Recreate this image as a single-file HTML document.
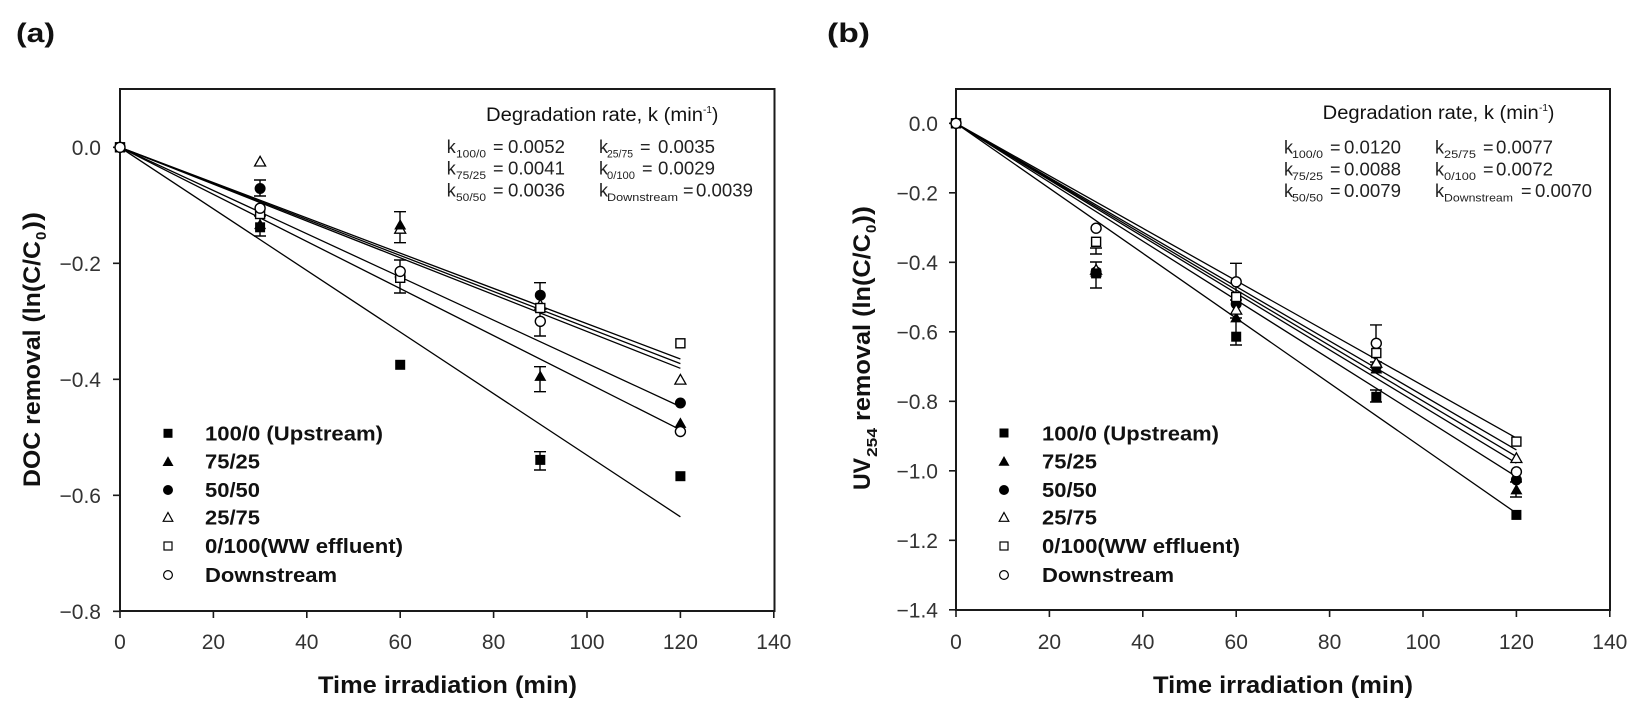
<!DOCTYPE html>
<html><head><meta charset="utf-8"><style>
html,body{margin:0;padding:0;background:#fff;}
svg{display:block;}
text{font-family:"Liberation Sans",Arial,sans-serif;fill:#111;}
.tk{font-size:21px;fill:#333;}
.lg{font-size:20px;font-weight:bold;}
.al{font-size:24px;font-weight:bold;}
.an{font-size:18px;fill:#222;}
.sb{font-size:11px;fill:#222;}
</style></head><body>
<svg width="1641" height="710" viewBox="0 0 1641 710" xmlns="http://www.w3.org/2000/svg">
<defs>
<rect id="fs" x="-5" y="-5" width="10" height="10" fill="#000"/>
<rect id="os" x="-4.5" y="-4.5" width="9" height="9" fill="#fff" stroke="#000" stroke-width="1.4"/>
<circle id="fc" r="5.5" fill="#000"/>
<circle id="oc" r="5" fill="#fff" stroke="#000" stroke-width="1.4"/>
<polygon id="ft" points="0,-6 6,4.5 -6,4.5" fill="#000"/>
<polygon id="ot" points="0,-5.5 5.5,4.2 -5.5,4.2" fill="#fff" stroke="#000" stroke-width="1.3"/>
</defs>
<rect width="1641" height="710" fill="#fff"/>

<!-- ================= PANEL A ================= -->
<text x="16" y="42" font-size="27" font-weight="bold" textLength="39" lengthAdjust="spacingAndGlyphs">(a)</text>
<rect x="120" y="89" width="654.5" height="522" fill="none" stroke="#1a1a1a" stroke-width="2"/>
<g stroke="#1a1a1a" stroke-width="1.6">
<path d="M113 147.3H120M113 263.3H120M113 379.3H120M113 495.3H120M113 611.3H120"/>
<path d="M120 611V618M213.4 611V618M306.8 611V618M400.2 611V618M493.6 611V618M587 611V618M680.4 611V618M773.8 611V618"/>
</g>
<g text-anchor="end">
<text x="101" y="154.8" class="tk">0.0</text>
<text x="101" y="270.8" class="tk">−0.2</text>
<text x="101" y="386.8" class="tk">−0.4</text>
<text x="101" y="502.8" class="tk">−0.6</text>
<text x="101" y="618.8" class="tk">−0.8</text>
</g>
<g text-anchor="middle">
<text x="120" y="649" class="tk">0</text>
<text x="213.4" y="649" class="tk">20</text>
<text x="306.8" y="649" class="tk">40</text>
<text x="400.2" y="649" class="tk">60</text>
<text x="493.6" y="649" class="tk">80</text>
<text x="587" y="649" class="tk">100</text>
<text x="680.4" y="649" class="tk">120</text>
<text x="773.8" y="649" class="tk">140</text>
</g>
<text x="318" y="693" class="al" textLength="259" lengthAdjust="spacingAndGlyphs">Time irradiation (min)</text>
<g transform="translate(40,487) rotate(-90)">
<text x="0" y="0" class="al" textLength="246" lengthAdjust="spacingAndGlyphs">DOC removal (ln(C/C</text>
<text x="247" y="6" font-size="15" font-weight="bold">0</text>
<text x="257" y="0" class="al" textLength="18" lengthAdjust="spacingAndGlyphs">))</text>
</g>
<text x="486" y="121" font-size="19" fill="#222" textLength="217" lengthAdjust="spacingAndGlyphs">Degradation rate, k (min</text>
<text x="703" y="113" font-size="10" fill="#222">-1</text>
<text x="712" y="121" font-size="19" fill="#222">)</text>
<g>
<text x="446.7" y="153" class="an">k</text><text x="456" y="157.5" class="sb" textLength="30" lengthAdjust="spacingAndGlyphs">100/0</text><text x="493" y="153" class="an">=</text><text x="508" y="153" class="an" textLength="57" lengthAdjust="spacingAndGlyphs">0.0052</text>
<text x="446.7" y="174.7" class="an">k</text><text x="456" y="179.2" class="sb" textLength="30" lengthAdjust="spacingAndGlyphs">75/25</text><text x="493" y="174.7" class="an">=</text><text x="508" y="174.7" class="an" textLength="57" lengthAdjust="spacingAndGlyphs">0.0041</text>
<text x="446.7" y="196.4" class="an">k</text><text x="456" y="200.9" class="sb" textLength="30" lengthAdjust="spacingAndGlyphs">50/50</text><text x="493" y="196.4" class="an">=</text><text x="508" y="196.4" class="an" textLength="57" lengthAdjust="spacingAndGlyphs">0.0036</text>
<text x="599" y="153" class="an">k</text><text x="607" y="157.5" class="sb" textLength="26" lengthAdjust="spacingAndGlyphs">25/75</text><text x="640" y="153" class="an">=</text><text x="658" y="153" class="an" textLength="57" lengthAdjust="spacingAndGlyphs">0.0035</text>
<text x="599" y="174.7" class="an">k</text><text x="607" y="179.2" class="sb" textLength="28" lengthAdjust="spacingAndGlyphs">0/100</text><text x="642" y="174.7" class="an">=</text><text x="658" y="174.7" class="an" textLength="57" lengthAdjust="spacingAndGlyphs">0.0029</text>
<text x="599" y="196.4" class="an">k</text><text x="607" y="200.9" class="sb" textLength="71" lengthAdjust="spacingAndGlyphs">Downstream</text><text x="683" y="196.4" class="an">=</text><text x="696" y="196.4" class="an" textLength="57" lengthAdjust="spacingAndGlyphs">0.0039</text>
</g>
<g stroke="#000" stroke-width="1.3" fill="none">
<path d="M120 147.3L680.4 359"/>
<path d="M120 147.3L680.4 363.6"/>
<path d="M120 147.3L680.4 368.3"/>
<path d="M120 147.3L680.4 406.6"/>
<path d="M120 147.3L680.4 429.8"/>
<path d="M120 147.3L680.4 516.8"/>
</g>
<g stroke="#000" stroke-width="1.4" fill="none">
<path d="M254 180H266M260 180V196M254 196H266"/>
<path d="M254 216H266M260 216V236M254 236H266"/>
<path d="M394 211.7H406M400 211.7V242.7M394 242.7H406"/>
<path d="M394 260H406M400 260V293M394 293H406"/>
<path d="M534 282.7H546M540 282.7V336M534 336H546"/>
<path d="M534 366.7H546M540 366.7V391.7M534 391.7H546"/>
<path d="M534 451.7H546M540 451.7V470M534 470H546"/>
</g>
<use href="#fs" x="120" y="147.3"/><use href="#os" x="120" y="147.3"/><use href="#oc" x="120" y="147.3"/>
<use href="#ot" x="260.1" y="161.8"/>
<use href="#fc" x="260.1" y="188.5"/>
<use href="#os" x="260.1" y="214"/>
<use href="#oc" x="260.1" y="208.2"/>
<use href="#fs" x="260.1" y="227.3"/>
<use href="#ft" x="260.1" y="224.6"/>
<use href="#fc" x="400.2" y="277"/>
<use href="#os" x="400.2" y="277.8"/>
<use href="#oc" x="400.2" y="271.4"/>
<use href="#ot" x="400.2" y="229"/>
<use href="#ft" x="400.2" y="225"/>
<use href="#fs" x="400.2" y="364.8"/>
<use href="#ot" x="540.3" y="305"/>
<use href="#fc" x="540.3" y="295.2"/>
<use href="#os" x="540.3" y="308"/>
<use href="#oc" x="540.3" y="321.3"/>
<use href="#ft" x="540.3" y="376.4"/>
<use href="#fs" x="540.3" y="459.9"/>
<use href="#os" x="680.4" y="343.3"/>
<use href="#ot" x="680.4" y="379.9"/>
<use href="#fc" x="680.4" y="403"/>
<use href="#ft" x="680.4" y="423.4"/>
<use href="#oc" x="680.4" y="431.5"/>
<use href="#fs" x="680.4" y="476.2"/>
<g>
<rect x="163.5" y="428.8" width="9" height="9" fill="#000"/>
<polygon points="168,456.2 173.5,466 162.5,466" fill="#000"/>
<circle cx="168" cy="490" r="5" fill="#000"/>
<polygon points="168,512.5 172.8,521.3 163.2,521.3" fill="#fff" stroke="#000" stroke-width="1.2"/>
<rect x="164" y="542" width="8" height="8" fill="#fff" stroke="#000" stroke-width="1.2"/>
<circle cx="168" cy="575" r="4.4" fill="#fff" stroke="#000" stroke-width="1.2"/>
<text x="205" y="440.5" class="lg" textLength="178" lengthAdjust="spacingAndGlyphs">100/0 (Upstream)</text>
<text x="205" y="468.7" class="lg" textLength="55" lengthAdjust="spacingAndGlyphs">75/25</text>
<text x="205" y="497" class="lg" textLength="55" lengthAdjust="spacingAndGlyphs">50/50</text>
<text x="205" y="524.7" class="lg" textLength="55" lengthAdjust="spacingAndGlyphs">25/75</text>
<text x="205" y="553" class="lg" textLength="198" lengthAdjust="spacingAndGlyphs">0/100(WW effluent)</text>
<text x="205" y="582" class="lg" textLength="132" lengthAdjust="spacingAndGlyphs">Downstream</text>
</g>

<!-- ================= PANEL B ================= -->
<text x="827" y="42" font-size="27" font-weight="bold" textLength="43" lengthAdjust="spacingAndGlyphs">(b)</text>
<rect x="956" y="89" width="654" height="521" fill="none" stroke="#1a1a1a" stroke-width="2"/>
<g stroke="#1a1a1a" stroke-width="1.6">
<path d="M949 123.3H956M949 192.8H956M949 262.3H956M949 331.8H956M949 401.3H956M949 470.8H956M949 540.3H956M949 609.8H956"/>
<path d="M956 610V617M1049.4 610V617M1142.8 610V617M1236.2 610V617M1329.6 610V617M1423 610V617M1516.4 610V617M1609.8 610V617"/>
</g>
<g text-anchor="end">
<text x="938" y="130.8" class="tk">0.0</text>
<text x="938" y="200.3" class="tk">−0.2</text>
<text x="938" y="269.8" class="tk">−0.4</text>
<text x="938" y="339.3" class="tk">−0.6</text>
<text x="938" y="408.8" class="tk">−0.8</text>
<text x="938" y="478.3" class="tk">−1.0</text>
<text x="938" y="547.8" class="tk">−1.2</text>
<text x="938" y="617.3" class="tk">−1.4</text>
</g>
<g text-anchor="middle">
<text x="956" y="649" class="tk">0</text>
<text x="1049.4" y="649" class="tk">20</text>
<text x="1142.8" y="649" class="tk">40</text>
<text x="1236.2" y="649" class="tk">60</text>
<text x="1329.6" y="649" class="tk">80</text>
<text x="1423" y="649" class="tk">100</text>
<text x="1516.4" y="649" class="tk">120</text>
<text x="1609.8" y="649" class="tk">140</text>
</g>
<text x="1153" y="693" class="al" textLength="260" lengthAdjust="spacingAndGlyphs">Time irradiation (min)</text>
<g transform="translate(870,490) rotate(-90)">
<text x="0" y="0" class="al" textLength="32" lengthAdjust="spacingAndGlyphs">UV</text>
<text x="33" y="7" font-size="15" font-weight="bold" textLength="29" lengthAdjust="spacingAndGlyphs">254</text>
<text x="69" y="0" class="al" textLength="187" lengthAdjust="spacingAndGlyphs">removal (ln(C/C</text>
<text x="257" y="6" font-size="15" font-weight="bold">0</text>
<text x="266" y="0" class="al" textLength="18" lengthAdjust="spacingAndGlyphs">))</text>
</g>
<text x="1322.7" y="119" font-size="19" fill="#222" textLength="216" lengthAdjust="spacingAndGlyphs">Degradation rate, k (min</text>
<text x="1539" y="111" font-size="10" fill="#222">-1</text>
<text x="1548" y="119" font-size="19" fill="#222">)</text>
<g>
<text x="1284" y="153.7" class="an">k</text><text x="1292" y="158.2" class="sb" textLength="31" lengthAdjust="spacingAndGlyphs">100/0</text><text x="1330" y="153.7" class="an">=</text><text x="1344" y="153.7" class="an" textLength="57" lengthAdjust="spacingAndGlyphs">0.0120</text>
<text x="1284" y="175.7" class="an">k</text><text x="1292" y="180.2" class="sb" textLength="31" lengthAdjust="spacingAndGlyphs">75/25</text><text x="1330" y="175.7" class="an">=</text><text x="1344" y="175.7" class="an" textLength="57" lengthAdjust="spacingAndGlyphs">0.0088</text>
<text x="1284" y="197.1" class="an">k</text><text x="1292" y="201.6" class="sb" textLength="31" lengthAdjust="spacingAndGlyphs">50/50</text><text x="1330" y="197.1" class="an">=</text><text x="1344" y="197.1" class="an" textLength="57" lengthAdjust="spacingAndGlyphs">0.0079</text>
<text x="1435" y="153.7" class="an">k</text><text x="1444" y="158.2" class="sb" textLength="32" lengthAdjust="spacingAndGlyphs">25/75</text><text x="1483" y="153.7" class="an">=</text><text x="1496" y="153.7" class="an" textLength="57" lengthAdjust="spacingAndGlyphs">0.0077</text>
<text x="1435" y="175.7" class="an">k</text><text x="1444" y="180.2" class="sb" textLength="32" lengthAdjust="spacingAndGlyphs">0/100</text><text x="1483" y="175.7" class="an">=</text><text x="1496" y="175.7" class="an" textLength="57" lengthAdjust="spacingAndGlyphs">0.0072</text>
<text x="1435" y="197.1" class="an">k</text><text x="1444" y="201.6" class="sb" textLength="69" lengthAdjust="spacingAndGlyphs">Downstream</text><text x="1521" y="197.1" class="an">=</text><text x="1535" y="197.1" class="an" textLength="57" lengthAdjust="spacingAndGlyphs">0.0070</text>
</g>
<g stroke="#000" stroke-width="1.3" fill="none">
<path d="M956 123.3L1516.4 438.1"/>
<path d="M956 123.3L1516.4 449.9"/>
<path d="M956 123.3L1516.4 456.6"/>
<path d="M956 123.3L1516.4 463.2"/>
<path d="M956 123.3L1516.4 476.7"/>
<path d="M956 123.3L1516.4 513.2"/>
</g>
<g stroke="#000" stroke-width="1.4" fill="none">
<path d="M1090 248H1102M1096 248V254M1090 254H1102"/>
<path d="M1090 262H1102M1096 262V288M1090 288H1102"/>
<path d="M1230 263.3H1242M1236 263.3V300M1230 300H1242"/>
<path d="M1230 318H1242M1236 318V345M1230 345H1242"/>
<path d="M1370 324.9H1382M1376 324.9V362M1370 362H1382"/>
<path d="M1370 390H1382M1376 390V402M1370 402H1382"/>
<path d="M1510 482H1522M1516 482V497M1510 497H1522"/>
</g>
<use href="#fs" x="956" y="123.3"/><use href="#os" x="956" y="123.3"/><use href="#oc" x="956" y="123.3"/>
<use href="#ft" x="1096.1" y="272"/>
<use href="#fc" x="1096.1" y="272"/>
<use href="#ot" x="1096.1" y="270"/>
<use href="#fs" x="1096.1" y="273.4"/>
<use href="#os" x="1096.1" y="241.8"/>
<use href="#oc" x="1096.1" y="228.2"/>
<use href="#fs" x="1236.2" y="336.7"/>
<use href="#ft" x="1236.2" y="317.9"/>
<use href="#fc" x="1236.2" y="304"/>
<use href="#ot" x="1236.2" y="309.9"/>
<use href="#os" x="1236.2" y="297"/>
<use href="#oc" x="1236.2" y="281.8"/>
<use href="#fs" x="1376.3" y="396.8"/>
<use href="#ft" x="1376.3" y="369"/>
<use href="#fc" x="1376.3" y="366.5"/>
<use href="#ot" x="1376.3" y="363"/>
<use href="#os" x="1376.3" y="353"/>
<use href="#oc" x="1376.3" y="343.3"/>
<use href="#fs" x="1516.4" y="514.9"/>
<use href="#ft" x="1516.4" y="489.9"/>
<use href="#fc" x="1516.4" y="479.8"/>
<use href="#oc" x="1516.4" y="471.8"/>
<use href="#ot" x="1516.4" y="458.3"/>
<use href="#os" x="1516.4" y="441.6"/>
<g>
<rect x="999.5" y="428.5" width="9" height="9" fill="#000"/>
<polygon points="1004,456 1009.5,465.8 998.5,465.8" fill="#000"/>
<circle cx="1004" cy="490" r="5" fill="#000"/>
<polygon points="1004,512.5 1008.8,521.3 999.2,521.3" fill="#fff" stroke="#000" stroke-width="1.2"/>
<rect x="1000" y="542" width="8" height="8" fill="#fff" stroke="#000" stroke-width="1.2"/>
<circle cx="1004" cy="575" r="4.4" fill="#fff" stroke="#000" stroke-width="1.2"/>
<text x="1042" y="440.5" class="lg" textLength="177" lengthAdjust="spacingAndGlyphs">100/0 (Upstream)</text>
<text x="1042" y="468.7" class="lg" textLength="55" lengthAdjust="spacingAndGlyphs">75/25</text>
<text x="1042" y="497" class="lg" textLength="55" lengthAdjust="spacingAndGlyphs">50/50</text>
<text x="1042" y="524.7" class="lg" textLength="55" lengthAdjust="spacingAndGlyphs">25/75</text>
<text x="1042" y="553" class="lg" textLength="198" lengthAdjust="spacingAndGlyphs">0/100(WW effluent)</text>
<text x="1042" y="582" class="lg" textLength="132" lengthAdjust="spacingAndGlyphs">Downstream</text>
</g>
</svg>
</body></html>
